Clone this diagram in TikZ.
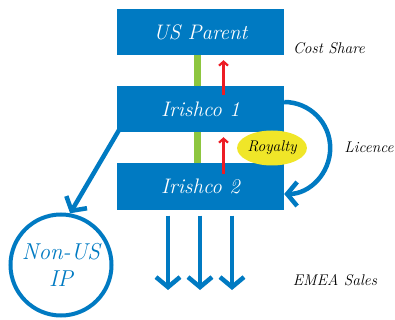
\documentclass[tikz,border=0pt]{standalone}
\usepackage{tikz}
\usetikzlibrary{arrows.meta,shapes.geometric}
\definecolor{entblue}{RGB}{0,122,194}
\definecolor{sharegreen}{RGB}{141,198,63}
\definecolor{payred}{RGB}{237,28,36}
\definecolor{royyellow}{RGB}{240,230,40}

\begin{document}
\begin{tikzpicture}[x=1pt, y=-1pt,
        entity/.style={fill=entblue, text=white, minimum width=167pt, minimum height=46pt,
                inner sep=0pt, font=\fontsize{21}{24}\selectfont\itshape},
        tag/.style={font=\fontsize{15.5}{18}\selectfont\itshape},
        flow/.style={entblue, line width=4.5pt, -{Straight Barb[length=10pt, width=24pt]}},
        costbar/.style={sharegreen, line width=7pt},
        payment/.style={payred, line width=2.2pt, -{Straight Barb[length=4pt, width=9pt]}}]
        \useasboundingbox (0,0) rectangle (395,320);
        \node (us) [entity] at (200.5, 32) {US Parent};
        \node (i1) [entity] at (200.5, 109) {Irishco 1};
        \node (i2) [entity] at (200.5, 186.5) {Irishco 2};
        \node (ip) [circle, draw=entblue, line width=4pt, minimum size=101pt, inner sep=0pt,
                text=entblue, align=center, font=\fontsize{23}{27}\selectfont\itshape]
                at (61, 265) {Non-US\\IP};
        \node (cs) [tag] at (329, 48) {Cost Share};
        \node (lic) [tag] at (369, 147) {Licence};
        \node (emea) [tag] at (335, 280) {EMEA Sales};
        \coordinate (s1) at (168, 290);
        \coordinate (s2) at (200, 290);
        \coordinate (s3) at (232, 290);
        % cost share and royalty
        \draw[costbar] ([xshift=-3.5pt]us.south) -- ([xshift=-3.5pt]i1.north);
        \draw[costbar] ([xshift=-3.5pt]i1.south) -- ([xshift=-3.5pt]i2.north);
        \draw[payment] ([xshift=23pt, yshift=-9pt]i1.north) -- ([xshift=23pt, yshift=-5pt]us.south);
        \draw[payment] ([xshift=23pt, yshift=-11pt]i2.north) -- ([xshift=23pt, yshift=-5pt]i1.south);
        \node (roy) [ellipse, fill=royyellow, minimum width=69pt, minimum height=35pt, inner sep=0pt,
                font=\fontsize{15.5}{18}\selectfont\itshape] at (272, 148) {Royalty};
        % licence and IP
        \draw[flow] ([yshift=7pt]i1.east) arc[start angle=-90, end angle=90, radius=46];
        \draw[flow] ([xshift=8pt, yshift=12pt]i1.south west) -- (ip.80);
        % sales
        \draw[flow] ([xshift=-32.5pt, yshift=-6pt]i2.south) -- (s1);
        \draw[flow] ([xshift=-0.5pt, yshift=-6pt]i2.south) -- (s2);
        \draw[flow] ([xshift=31.5pt, yshift=-6pt]i2.south) -- (s3);
\end{tikzpicture}
\end{document}
